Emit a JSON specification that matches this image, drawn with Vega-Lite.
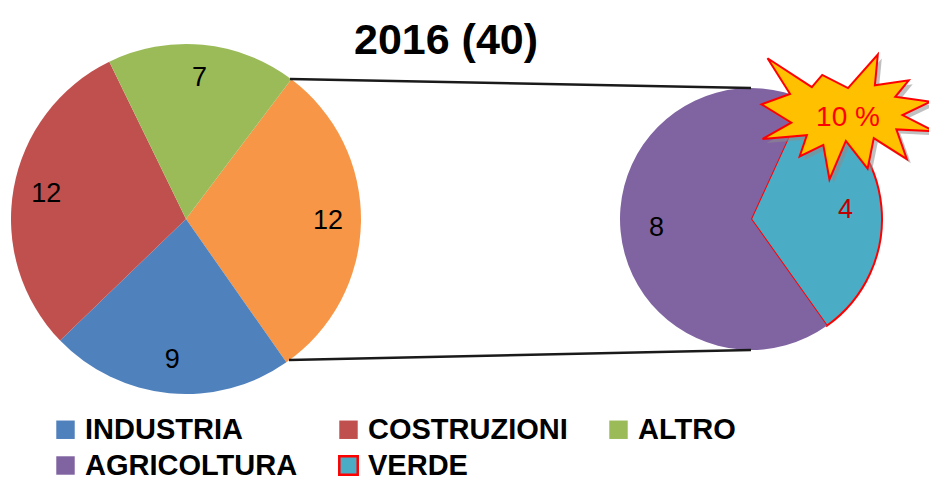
{
  "$schema": "https://vega.github.io/schema/vega-lite/v6.json",
  "width": 929,
  "height": 438,
  "padding": {"top": 0, "left": 0, "right": 0, "bottom": 43},
  "autosize": {"type": "none"},
  "background": "white",
  "config": {"view": {"stroke": null}},
  "data": {"values": [
    {"pie": "main", "cat": "AGRICOLTURA + VERDE", "val": 12, "n": 1},
    {"pie": "main", "cat": "INDUSTRIA", "val": 9, "n": 2},
    {"pie": "main", "cat": "COSTRUZIONI", "val": 12, "n": 3},
    {"pie": "main", "cat": "ALTRO", "val": 7, "n": 4},
    {"pie": "sub", "cat": "VERDE", "val": 4, "n": 1},
    {"pie": "sub", "cat": "AGRICOLTURA", "val": 8, "n": 2}
  ]},
  "resolve": {"scale": {"theta": "independent", "x": "independent", "y": "independent"}},
  "layer": [
    {
      "transform": [{"filter": "datum.pie === 'main'"}],
      "encoding": {
        "theta": {"field": "val", "type": "quantitative", "stack": true, "scale": {"range": [0.6458, 6.9290]}},
        "order": {"field": "n", "type": "quantitative"},
        "x": {"field": "pie", "type": "nominal", "scale": {"type": "point", "domain": ["main", "sub"], "range": [186, 751], "padding": 0}, "axis": null}
      },
      "layer": [
        {
          "mark": {"type": "arc", "outerRadius": 175, "strokeWidth": 2},
          "encoding": {
            "color": {
              "field": "cat", "type": "nominal",
              "scale": {
                "domain": ["INDUSTRIA", "COSTRUZIONI", "ALTRO", "AGRICOLTURA", "VERDE", "AGRICOLTURA + VERDE"],
                "range": ["#4F81BD", "#C0504D", "#9BBB59", "#8064A2", "#4BACC6", "#F79646"]
              },
              "legend": {
                "orient": "none", "legendX": 51, "legendY": 415, "direction": "horizontal", "columns": 3, "title": null,
                "values": ["INDUSTRIA", "COSTRUZIONI", "ALTRO", "AGRICOLTURA", "VERDE"],
                "symbolType": "square", "symbolSize": 340, "symbolOpacity": 1, "symbolStrokeWidth": 2.5,
                "labelFont": "Liberation Sans", "labelFontWeight": "bold", "labelFontSize": 29, "labelColor": "black",
                "labelLimit": 400, "labelOffset": 5, "columnPadding": 36, "rowPadding": 6, "padding": 0
              }
            },
            "stroke": {
              "field": "cat", "type": "nominal",
              "scale": {
                "domain": ["INDUSTRIA", "COSTRUZIONI", "ALTRO", "AGRICOLTURA", "VERDE", "AGRICOLTURA + VERDE"],
                "range": ["transparent", "transparent", "transparent", "transparent", "#FF0000", "transparent"]
              },
              "legend": {
                "orient": "none", "legendX": 51, "legendY": 415, "direction": "horizontal", "columns": 3, "title": null,
                "values": ["INDUSTRIA", "COSTRUZIONI", "ALTRO", "AGRICOLTURA", "VERDE"],
                "symbolType": "square", "symbolSize": 340, "symbolOpacity": 1, "symbolStrokeWidth": 2.5,
                "labelFont": "Liberation Sans", "labelFontWeight": "bold", "labelFontSize": 29, "labelColor": "black",
                "labelLimit": 400, "labelOffset": 5, "columnPadding": 36, "rowPadding": 6, "padding": 0
              }
            }
          }
        },
        {
          "mark": {"type": "text", "radius": 142, "font": "Liberation Sans", "fontSize": 27, "baseline": "middle", "align": "center"},
          "encoding": {
            "detail": {"field": "cat", "type": "nominal"},
            "text": {"field": "val", "type": "quantitative"},
            "color": {"value": "black"}
          }
        }
      ]
    },
    {
      "transform": [{"filter": "datum.pie === 'sub'"}],
      "encoding": {
        "theta": {"field": "val", "type": "quantitative", "stack": true, "scale": {"range": [0.4294, 6.7126]}},
        "order": {"field": "n", "type": "quantitative"},
        "x": {"field": "pie", "type": "nominal", "scale": {"type": "point", "domain": ["main", "sub"], "range": [186, 751], "padding": 0}, "axis": null}
      },
      "layer": [
        {
          "mark": {"type": "arc", "outerRadius": 131, "strokeWidth": 2},
          "encoding": {
            "color": {"field": "cat", "type": "nominal", "legend": null},
            "stroke": {"field": "cat", "type": "nominal", "legend": null}
          }
        },
        {
          "mark": {"type": "text", "radius": 95, "font": "Liberation Sans", "fontSize": 27, "baseline": "middle", "align": "center"},
          "encoding": {
            "detail": {"field": "cat", "type": "nominal"},
            "text": {"field": "val", "type": "quantitative"},
            "color": {"condition": {"test": "datum.cat === 'VERDE'", "value": "#C00000"}, "value": "black"}
          }
        }
      ]
    },
    {
      "data": {"values": [{"label": "10 %", "title": "2016 (40)"}]},
      "encoding": {
        "x": {"datum": 0, "type": "quantitative", "scale": {"domain": [0, 929], "nice": false, "zero": false}, "axis": null},
        "y": {"datum": 0, "type": "quantitative", "scale": {"domain": [0, 438], "nice": false, "zero": false, "reverse": true}, "axis": null}
      },
      "layer": [
        {
          "mark": {"type": "rule", "color": "#1a1a1a", "strokeWidth": 2.5},
          "encoding": {
            "x": {"datum": 290, "type": "quantitative"},
            "y": {"datum": 79, "type": "quantitative"},
            "x2": {"datum": 751},
            "y2": {"datum": 88}
          }
        },
        {
          "mark": {"type": "rule", "color": "#1a1a1a", "strokeWidth": 2.5},
          "encoding": {
            "x": {"datum": 289, "type": "quantitative"},
            "y": {"datum": 360, "type": "quantitative"},
            "x2": {"datum": 751},
            "y2": {"datum": 350}
          }
        },
        {
          "mark": {"type": "point", "filled": true, "fill": "#8c8c8c", "opacity": 0.55, "size": 29929, "xOffset": 4, "yOffset": 4,
            "shape": "M0,-0.3345L0.3446,-0.7225L0.3106,-0.3663L0.7019,-0.4243L0.5465,-0.2331L0.9534,-0.1781L0.6303,-0.0217L1,0.1666L0.559,0.1433L0.6801,0.488L0.2981,0.2447L0.2266,0.5979L-0.0248,0.2766L-0.2144,0.7225L-0.2856,0.3229L-0.5591,0.456L-0.4753,0.2099L-0.9875,0.2533L-0.6554,0.0652L-1,-0.1462L-0.6697,-0.2674L-0.9304,-0.679L-0.4181,-0.346L-0.2981,-0.4859Z"},
          "encoding": {
            "x": {"datum": 848, "type": "quantitative"},
            "y": {"datum": 117, "type": "quantitative"}
          }
        },
        {
          "mark": {"type": "point", "filled": true, "fill": "#FFC000", "stroke": "#FF0000", "strokeWidth": 2, "opacity": 1, "size": 29929,
            "shape": "M0,-0.3345L0.3446,-0.7225L0.3106,-0.3663L0.7019,-0.4243L0.5465,-0.2331L0.9534,-0.1781L0.6303,-0.0217L1,0.1666L0.559,0.1433L0.6801,0.488L0.2981,0.2447L0.2266,0.5979L-0.0248,0.2766L-0.2144,0.7225L-0.2856,0.3229L-0.5591,0.456L-0.4753,0.2099L-0.9875,0.2533L-0.6554,0.0652L-1,-0.1462L-0.6697,-0.2674L-0.9304,-0.679L-0.4181,-0.346L-0.2981,-0.4859Z"},
          "encoding": {
            "x": {"datum": 848, "type": "quantitative"},
            "y": {"datum": 117, "type": "quantitative"}
          }
        },
        {
          "mark": {"type": "text", "font": "Liberation Sans", "fontSize": 28, "color": "#FF0000", "align": "center", "baseline": "middle"},
          "encoding": {
            "x": {"datum": 848, "type": "quantitative"},
            "y": {"datum": 118, "type": "quantitative"},
            "text": {"field": "label"}
          }
        },
        {
          "mark": {"type": "text", "font": "Liberation Sans", "fontSize": 43, "fontWeight": "bold", "color": "black", "align": "center", "baseline": "alphabetic"},
          "encoding": {
            "x": {"datum": 446, "type": "quantitative"},
            "y": {"datum": 54, "type": "quantitative"},
            "text": {"field": "title"}
          }
        }
      ]
    }
  ]
}
